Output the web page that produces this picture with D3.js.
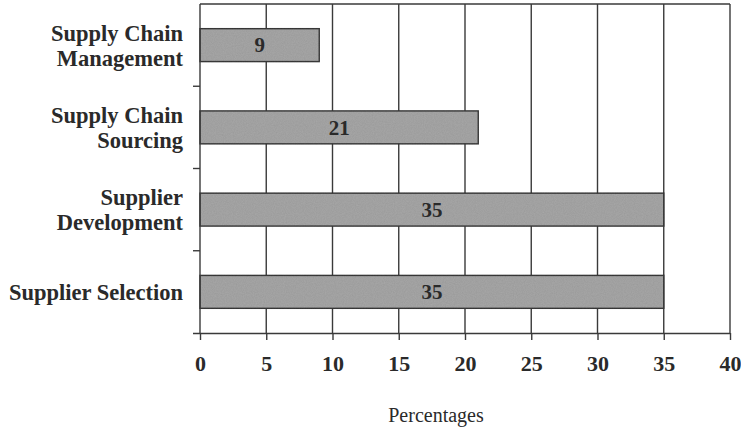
<!DOCTYPE html>
<html>
<head>
<meta charset="utf-8">
<script src="https://cdn.jsdelivr.net/npm/d3@7"></script>
<style>
  html, body { margin: 0; padding: 0; background: #fff; }
  svg { display: block; }
</style>
</head>
<body>
<svg id="chart" width="741" height="430"></svg>
<script>
const categories = ["Supply Chain\nManagement", "Supply Chain\nSourcing", "Supplier\nDevelopment", "Supplier Selection"];
const values = [9, 21, 35, 35];
const xTicks = [0, 5, 10, 15, 20, 25, 30, 35, 40];
const xTitle = "Percentages";

const W = 741, H = 430;
const m = { left: 200, right: 11, top: 4, bottom: 97 };
const svg = d3.select("#chart");
const ink = "#2a2a2a";
const serif = "'Liberation Serif', 'Times New Roman', serif";

const x = d3.scaleLinear().domain([0, 40]).range([m.left, W - m.right]);
const y = d3.scaleBand().domain(categories).range([m.top, H - m.bottom]).paddingInner(0.6).paddingOuter(0.3);

// texture filter for bars
const defs = svg.append("defs");
const f = defs.append("filter").attr("id", "grain");
f.append("feTurbulence").attr("type", "fractalNoise").attr("baseFrequency", 0.9).attr("numOctaves", 2).attr("result", "n");
f.append("feColorMatrix").attr("in", "n").attr("type", "matrix")
  .attr("values", "0 0 0 0 0  0 0 0 0 0  0 0 0 0 0  0 0 0 0.18 0").attr("result", "na");
f.append("feComposite").attr("in", "na").attr("in2", "SourceGraphic").attr("operator", "in").attr("result", "nb");
f.append("feMerge").selectAll("feMergeNode").data(["SourceGraphic", "nb"]).join("feMergeNode").attr("in", d => d);

// vertical gridlines
svg.append("g").selectAll("line").data(xTicks.filter(t => t > 0)).join("line")
  .attr("x1", d => x(d)).attr("x2", d => x(d))
  .attr("y1", m.top).attr("y2", H - m.bottom)
  .attr("stroke", "#3a3a3a").attr("stroke-width", 1.4);

// top border
svg.append("line").attr("x1", x(0)).attr("x2", x(40)).attr("y1", m.top).attr("y2", m.top)
  .attr("stroke", "#3a3a3a").attr("stroke-width", 1.4);

// bars
svg.append("g").selectAll("rect").data(values).join("rect")
  .attr("x", x(0)).attr("y", (d, i) => y(categories[i]))
  .attr("width", d => x(d) - x(0)).attr("height", y.bandwidth())
  .attr("fill", "#a8a8a8").attr("stroke", "#3a3a3a").attr("stroke-width", 1.4)
  .attr("filter", "url(#grain)");

// bar labels
svg.append("g").selectAll("text").data(values).join("text")
  .attr("x", d => (x(0) + x(d)) / 2)
  .attr("y", (d, i) => y(categories[i]) + y.bandwidth() / 2)
  .attr("dy", "0.35em").attr("text-anchor", "middle")
  .attr("font-family", serif).attr("font-weight", "bold").attr("font-size", 21)
  .attr("fill", ink).text(d => d);

// x axis
const xAxis = d3.axisBottom(x).tickValues(xTicks).tickSize(7).tickPadding(15).tickFormat(d3.format("d"));
const gx = svg.append("g").attr("transform", `translate(0,${H - m.bottom})`).call(xAxis);
gx.select(".domain").attr("d", `M${m.left - 7},0.5H${W - m.right}`).attr("stroke", "#3a3a3a").attr("stroke-width", 1.4);
gx.selectAll(".tick line").attr("stroke", "#3a3a3a").attr("stroke-width", 1.4);
gx.selectAll(".tick text").attr("font-family", serif).attr("font-weight", "bold").attr("font-size", 22).attr("fill", ink);

// y axis (category ticks at band boundaries)
const bounds = d3.range(categories.length + 1).map(i => m.top + i * y.step());
svg.append("line").attr("x1", x(0)).attr("x2", x(0)).attr("y1", m.top).attr("y2", H - m.bottom)
  .attr("stroke", "#3a3a3a").attr("stroke-width", 1.4);
svg.append("g").selectAll("line").data(bounds.slice(1, -1)).join("line")
  .attr("x1", x(0) - 7).attr("x2", x(0)).attr("y1", d => d).attr("y2", d => d)
  .attr("stroke", "#3a3a3a").attr("stroke-width", 1.4);

// category labels
const lab = svg.append("g").selectAll("text").data(categories).join("text")
  .attr("text-anchor", "end")
  .attr("font-family", serif).attr("font-weight", "bold").attr("font-size", 22.5).attr("fill", ink)
  .attr("transform", d => `translate(${x(0) - 17},${y(d) + y.bandwidth() / 2})`);
lab.each(function(d) {
  const lines = d.split("\n");
  const lh = 25;
  d3.select(this).selectAll("tspan").data(lines).join("tspan")
    .attr("x", 0)
    .attr("y", (l, i) => (i - (lines.length - 1) / 2) * lh)
    .attr("dy", "0.35em").text(l => l);
});

// x title
svg.append("text").attr("x", (x(0) + x(40)) / 2 - 29).attr("y", H - 15)
  .attr("text-anchor", "middle").attr("dy", "0.35em")
  .attr("font-family", serif).attr("font-size", 20).attr("fill", ink).text(xTitle);
</script>
</body>
</html>
